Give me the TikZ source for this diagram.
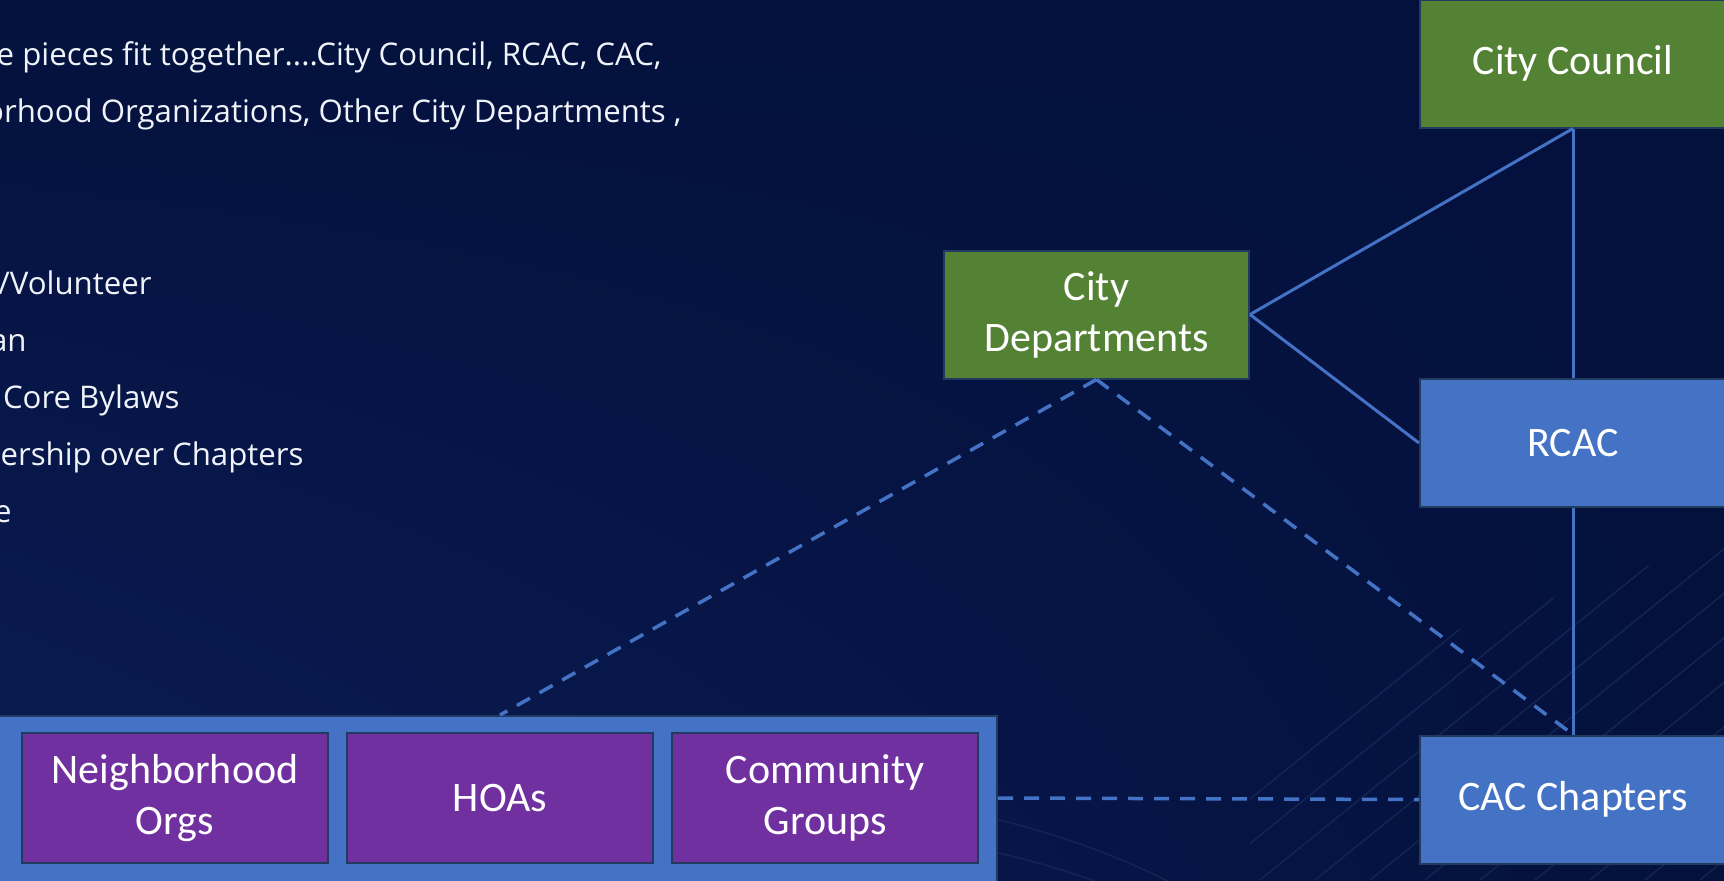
\documentclass[tikz,border=0pt]{standalone}
\usepackage{fontspec}
\setmainfont{Carlito}
\newfontfamily\slidefont{Open Sans}
\usetikzlibrary{calc, shadings}
\definecolor{slidebg}{HTML}{04113D}
\definecolor{slidebglight}{HTML}{0B1D56}
\definecolor{cgreen}{HTML}{548235}
\definecolor{cblue}{HTML}{4472C4}
\definecolor{cpurple}{HTML}{7030A0}
\definecolor{boxedge}{HTML}{203A60}
\definecolor{clink}{HTML}{4472C4}
\definecolor{cdecor}{HTML}{142453}
\tikzstyle{orgbox} = [rectangle, minimum width=152.5pt, minimum height=64pt, text centered, align=center, draw=boxedge, line width=1pt, text=white, inner sep=0pt, font=\fontsize{21}{25.5}\selectfont]
\tikzstyle{greenbox} = [orgbox, fill=cgreen]
\tikzstyle{bluebox} = [orgbox, fill=cblue]
\tikzstyle{purplebox} = [orgbox, fill=cpurple, minimum width=153pt, minimum height=65pt]
\tikzstyle{link} = [line width=1.5pt, draw=clink]
\tikzstyle{dashlink} = [line width=1.75pt, draw=clink, dash pattern=on 7.5pt off 5.5pt]
\tikzstyle{bodytext} = [text=white!92!cblue, inner sep=0pt, anchor=base east, font=\slidefont\fontsize{15.6}{18}\selectfont]
\tikzstyle{decor} = [draw=cdecor, line width=0.7pt]
\begin{document}
\begin{tikzpicture}[x=0.5pt, y=-0.5pt]
\useasboundingbox (0,0) rectangle (1724,880);
\clip (0,0) rectangle (1724,880);
\shade[lower left=slidebglight, upper left=slidebg, upper right=slidebg, lower right=slidebg] (0,0) rectangle (1724,880);
% faint background lines
\begin{scope}
\clip (1250,880) -- (1250,700) -- (1724,540) -- (1724,880) -- cycle;
\foreach \xs in {1150,1205,...,1800}
  \draw[decor] (\xs,880) -- ++(420,-340);
\end{scope}
\draw[decor] (900,800) .. controls (1000,815) and (1100,845) .. (1175,885);
\draw[decor] (900,835) .. controls (970,845) and (1040,860) .. (1105,885);
% left text (cut off by the frame)
\node (intro1) [bodytext] at (662,65) {e pieces fit together....City Council, RCAC, CAC,};
\node (intro2) [bodytext] at (682,122) {orhood Organizations, Other City Departments ,};
\node (item1) [bodytext] at (152,294) {/Volunteer};
\node (item2) [bodytext] at (27,351) {an};
\node (item3) [bodytext] at (180,408) {Core Bylaws};
\node (item4) [bodytext] at (304,465) {ership over Chapters};
\node (item5) [bodytext] at (12,522) {e};
% boxes
\node (council) [greenbox, minimum width=153pt] at (1573,63.5) {City Council};
\node (depts) [greenbox] at (1096.5,314.5) {City\\Departments};
\node (rcac) [bluebox, minimum width=153pt] at (1573,443) {RCAC};
\node (chapters) [bluebox, minimum width=153pt] at (1573,799.5) {CAC Chapters};
\node (local) [rectangle, fill=cblue, draw=boxedge, line width=1pt, minimum width=503.5pt, minimum height=92pt] at (493.5,808) {};
\node (neigh) [purplebox] at (175,798) {Neighborhood\\Orgs};
\node (hoa) [purplebox] at (500,798) {HOAs};
\node (comm) [purplebox] at (825,798) {Community\\Groups};
% connectors
\draw [link] (council.south) -- (depts.east);
\draw [link] (depts.east) -- (rcac.west);
\draw [link] (council.south) -- (rcac.north);
\draw [link] (rcac.south) -- (chapters.north);
\draw [dashlink] (depts.south) -- (hoa |- local.north);
\draw [dashlink] (depts.south) -- (chapters.north);
\draw [dashlink] (local.east |- comm.east) -- (chapters.west);
\end{tikzpicture}
\end{document}
